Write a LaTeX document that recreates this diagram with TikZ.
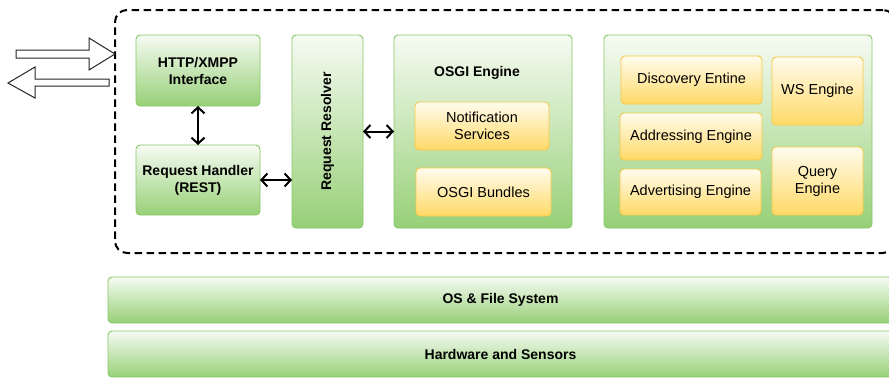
\documentclass[tikz,border=0pt]{standalone}
\usepackage{fontspec}
\setmainfont{Liberation Sans}
\usetikzlibrary{arrows.meta}
\definecolor{gtop}{HTML}{F6FBF3}
\definecolor{gbot}{HTML}{97D077}
\definecolor{gline}{HTML}{88C768}
\definecolor{ytop}{HTML}{FFFCEE}
\definecolor{ybot}{HTML}{FFD966}
\definecolor{yline}{HTML}{F7C948}
\begin{document}
\begin{tikzpicture}[x=1pt,y=-1pt,
  gbox/.style={draw=gline, line width=0.9pt, rounded corners=4pt, top color=gtop, bottom color=gbot,
    inner sep=0pt, outer sep=0pt, anchor=north west, align=center,
    font=\fontsize{14}{17}\selectfont\bfseries},
  ybox/.style={draw=yline, line width=0.9pt, rounded corners=4pt, top color=ytop, bottom color=ybot,
    inner sep=0pt, outer sep=0pt, anchor=north west, align=center,
    font=\fontsize{14.5}{17}\selectfont},
  boldlabel/.style={inner sep=0pt, font=\fontsize{14}{17}\selectfont\bfseries},
  frame/.style={draw=black, line width=2pt, dash pattern=on 7.5pt off 4.5pt, rounded corners=12pt,
    inner sep=0pt, outer sep=0pt, anchor=north west},
  dbl/.style={{Straight Barb[length=6pt,width=13pt,line width=2pt]}-{Straight Barb[length=6pt,width=13pt,line width=2pt]}, line width=2pt},
  openarrow/.style={draw=black!85, fill=white, line width=1pt}]
\useasboundingbox (0,0) rectangle (889,378);
\clip (0,0) rectangle (889,378);
\fill[white] (0,0) rectangle (889,378);

% dashed frame
\node[frame, minimum width=780pt, minimum height=243pt] (frame) at (115,10) {};

% open arrows
\draw[openarrow] (16,50) -- (89,50) -- (89,38) -- (115,54) -- (89,70) -- (89,58) -- (16,58) -- cycle;
\draw[openarrow] (109,79) -- (35,79) -- (35,67) -- (8,83) -- (35,98) -- (35,86) -- (109,86) -- cycle;

% left column
\node[gbox, minimum width=124pt, minimum height=71pt] (http) at (136,35) {HTTP/XMPP\\Interface};
\node[gbox, minimum width=124pt, minimum height=70pt] (rh) at (136,145) {Request Handler\\(REST)};

% request resolver
\node[gbox, minimum width=71pt, minimum height=193pt] (rr) at (292,35) {};
\node[boldlabel, rotate=90] (rrl) at (rr.center) {Request Resolver};

% OSGI engine
\node[gbox, minimum width=178pt, minimum height=193pt] (osgi) at (394,35) {};
\node[boldlabel] (osgil) at (477,73) {OSGI Engine};
\node[ybox, minimum width=134pt, minimum height=48pt] (ns) at (415,102) {Notification\\Services};
\node[ybox, minimum width=135pt, minimum height=48pt] (ob) at (416,168) {OSGI Bundles};

% engines
\node[gbox, minimum width=268pt, minimum height=193pt] (eng) at (604,35) {};
\node[ybox, minimum width=141pt, minimum height=48pt] (disc) at (621,56) {Discovery Entine};
\node[ybox, minimum width=142pt, minimum height=47pt] (addr) at (620,113) {Addressing Engine};
\node[ybox, minimum width=141pt, minimum height=46pt] (adv) at (620,169) {Advertising Engine};
\node[ybox, minimum width=91pt, minimum height=68pt] (ws) at (772,57) {WS Engine};
\node[ybox, minimum width=91pt, minimum height=68pt] (qe) at (772,147) {Query\\Engine};

% bottom layers
\node[gbox, minimum width=785pt, minimum height=46pt] (os) at (108,277) {OS \& File System};
\node[gbox, minimum width=785pt, minimum height=46pt] (hw) at (108,331) {Hardware and Sensors};

% connectors
\draw[dbl] (http.south) -- (rh.north);
\draw[dbl] (rh.east) -- (rh.east -| rr.west);
\draw[dbl] (rr.east) -- (rr.east -| osgi.west);
\end{tikzpicture}
\end{document}
